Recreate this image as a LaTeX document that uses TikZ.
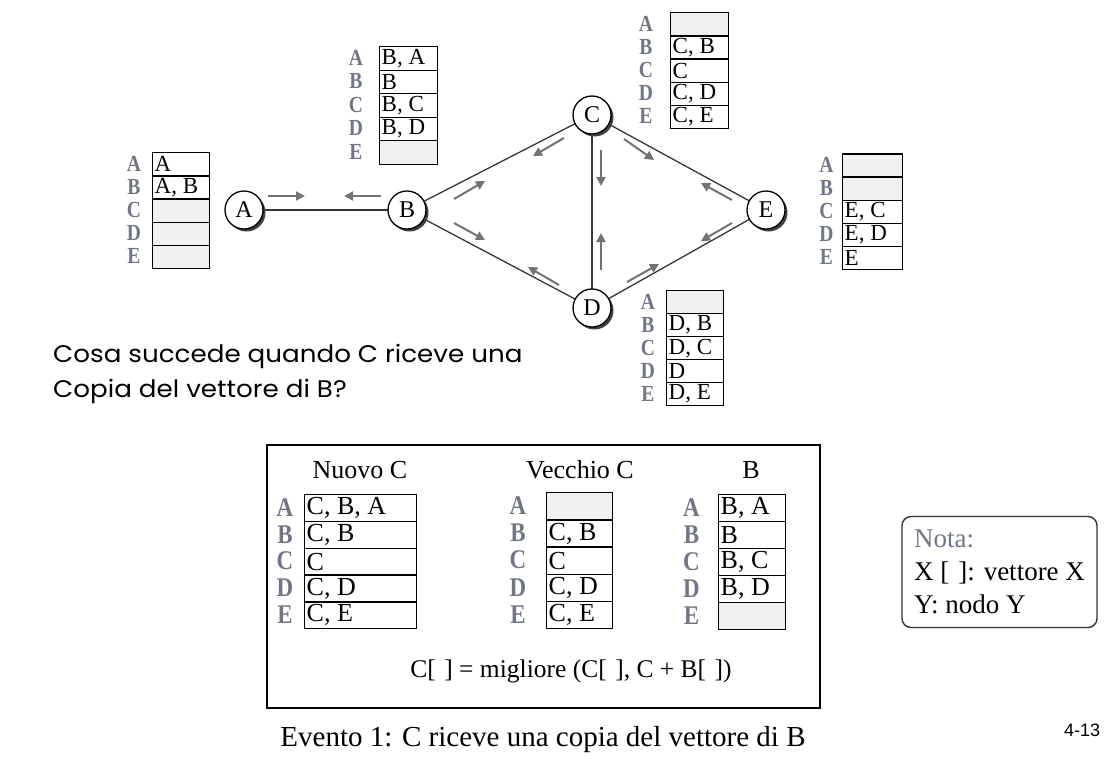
\documentclass[tikz,border=0pt]{standalone}
\usepackage{fontspec}
\usepackage{graphicx}
\setmainfont{Liberation Serif}
\newfontfamily\comicfont{Poppins}
\newfontfamily\arialfont{Liberation Sans}
\usetikzlibrary{arrows.meta,shadows}

\definecolor{cellgray}{RGB}{240,240,240}
\definecolor{labcol}{RGB}{112,118,132}
\definecolor{edgecol}{RGB}{55,55,55}
\definecolor{arrcol}{RGB}{115,115,115}

\newcommand{\fs}[1]{\fontsize{#1}{#1}\selectfont}
% name, x left, y top, width, row height, label x, cell font, label font, list
\newcommand{\vtab}[9]{%
  \foreach \L/\T/\F [count=\i] in {#9} {
    \node[cell, fill=\F, minimum width=#4pt, minimum height=#5pt] (#1-\i) at (#2, {#3+(\i-1)*#5}) {};
    \node[celltext, font=\fs{#7}] (#1-t\i) at ([xshift=2.5pt]#1-\i.west) {\T};
    \node[lab, font=\fs{#8}\bfseries] (#1-l\i) at (#6, {#3+(\i-0.5)*#5}) {\scalebox{0.85}[1]{\L}};
  }}

\begin{document}
\begin{tikzpicture}[x=1pt,y=-1pt,
  vnode/.style={circle, draw=black, line width=1.3pt, fill=white, minimum size=38pt, inner sep=0pt,
    font=\fs{24}, drop shadow={shadow xshift=2.5pt, shadow yshift=-2.5pt, fill=black!75, opacity=1}},
  edge/.style={draw=edgecol, line width=1.3pt},
  msg/.style={draw=arrcol, line width=2pt, -{Triangle[length=9pt,width=9pt]}},
  cell/.style={draw=black, line width=1.4pt, anchor=north west, inner sep=0pt},
  celltext/.style={anchor=west, inner sep=0pt},
  lab/.style={text=labcol, inner sep=0pt},
  title/.style={font=\fs{26}, inner sep=0pt},
]
\useasboundingbox (0,0) rectangle (1115,758);

% ---------- network ----------
\coordinate (pA) at (244,210);
\coordinate (pB) at (407,210);
\coordinate (pC) at (592,115);
\coordinate (pD) at (592,308);
\coordinate (pE) at (766,210);

\draw[edge] (pA) -- (pB);
\draw[edge] (pB) -- (pC);
\draw[edge] (pB) -- (pD);
\draw[edge] (pC) -- (pD);
\draw[edge] (pC) -- (pE);
\draw[edge] (pD) -- (pE);

\node[vnode] (A) at (pA) {A};
\node[vnode] (B) at (pB) {B};
\node[vnode] (C) at (pC) {C};
\node[vnode] (D) at (pD) {D};
\node[vnode] (E) at (pE) {E};

% messages
\draw[msg] (268,196) -- (305,196);
\draw[msg] (381,196) -- (344,196);
\draw[msg] (454,199) -- (485,181);
\draw[msg] (564,138) -- (533,156);
\draw[msg] (454,223) -- (485,240);
\draw[msg] (559,285) -- (528,267);
\draw[msg] (601,150) -- (601,186);
\draw[msg] (601,270) -- (601,233);
\draw[msg] (624,139) -- (654,160);
\draw[msg] (732,200) -- (701,183);
\draw[msg] (732,223) -- (701,241);
\draw[msg] (627,282) -- (659,264);

% ---------- vectors ----------
\vtab{tA}{152}{152}{57}{23.2}{134}{23}{23}{A/A/white, B/{A, B}/white, C/{}/cellgray, D/{}/cellgray, E/{}/cellgray}
\vtab{tB}{379}{46}{58}{23.5}{356}{23}{23}{A/{B, A}/white, B/B/white, C/{B, C}/white, D/{B, D}/white, E/{}/cellgray}
\vtab{tC}{670}{12}{58}{23.2}{646}{23}{23}{A/{}/cellgray, B/{C, B}/white, C/C/white, D/{C, D}/white, E/{C, E}/white}
\vtab{tE}{842}{153.3}{60}{23.1}{826.5}{23}{23}{A/{}/cellgray, B/{}/cellgray, C/{E, C}/white, D/{E, D}/white, E/E/white}
\vtab{tD}{666}{290}{57}{23}{648}{23}{23}{A/{}/cellgray, B/{D, B}/white, C/{D, C}/white, D/D/white, E/{D, E}/white}

% ---------- question ----------
\node[anchor=base west, inner sep=0pt, font=\comicfont\fs{24}] (q1) at (53,362) {\scalebox{1.09}[1]{Cosa succede quando C riceve una}};
\node[anchor=base west, inner sep=0pt, font=\comicfont\fs{24}] (q2) at (53,397) {\scalebox{1.09}[1]{Copia del vettore di B?}};

% ---------- event box ----------
\node[draw=black, line width=1.6pt, minimum width=553pt, minimum height=263pt, inner sep=0pt] (box) at (543.5,576.5) {};
\node[title] (tNuovo) at (360,470) {Nuovo C};
\node[title] (tVecchio) at (580,470) {Vecchio C};
\node[title] (tBB) at (751,470) {B};
\vtab{nC}{304}{494}{112}{26.8}{285}{26}{27}{A/{C, B, A}/white, B/{C, B}/white, C/C/white, D/{C, D}/white, E/{C, E}/white}
\vtab{oC}{546}{492}{66}{27.2}{518}{26}{27}{A/{}/cellgray, B/{C, B}/white, C/C/white, D/{C, D}/white, E/{C, E}/white}
\vtab{bB}{718}{494}{67}{27}{691.5}{26}{27}{A/{B, A}/white, B/B/white, C/{B, C}/white, D/{B, D}/white, E/{}/cellgray}
\node[font=\fs{25.5}, inner sep=0pt] (formula) at (571,671) {C[\,\,] = migliore (C[\,\,], C + B[\,\,])};

\node[font=\fs{29}, inner sep=0pt] (caption) at (543,740) {Evento 1: C riceve una copia del vettore di B};
\node[font=\arialfont\fs{18}, inner sep=0pt] (page) at (1082,730) {4-13};

% ---------- note ----------
\node[draw=black!80, line width=1.4pt, rounded corners=9pt, minimum width=195pt, minimum height=111pt,
      align=left, font=\fontsize{27}{33}\selectfont, inner sep=0pt] (nota) at (999.5,572)
  {{\color{labcol}Nota:}\\ X [\,\,]: vettore X\\ Y: nodo Y};
\end{tikzpicture}
\end{document}
